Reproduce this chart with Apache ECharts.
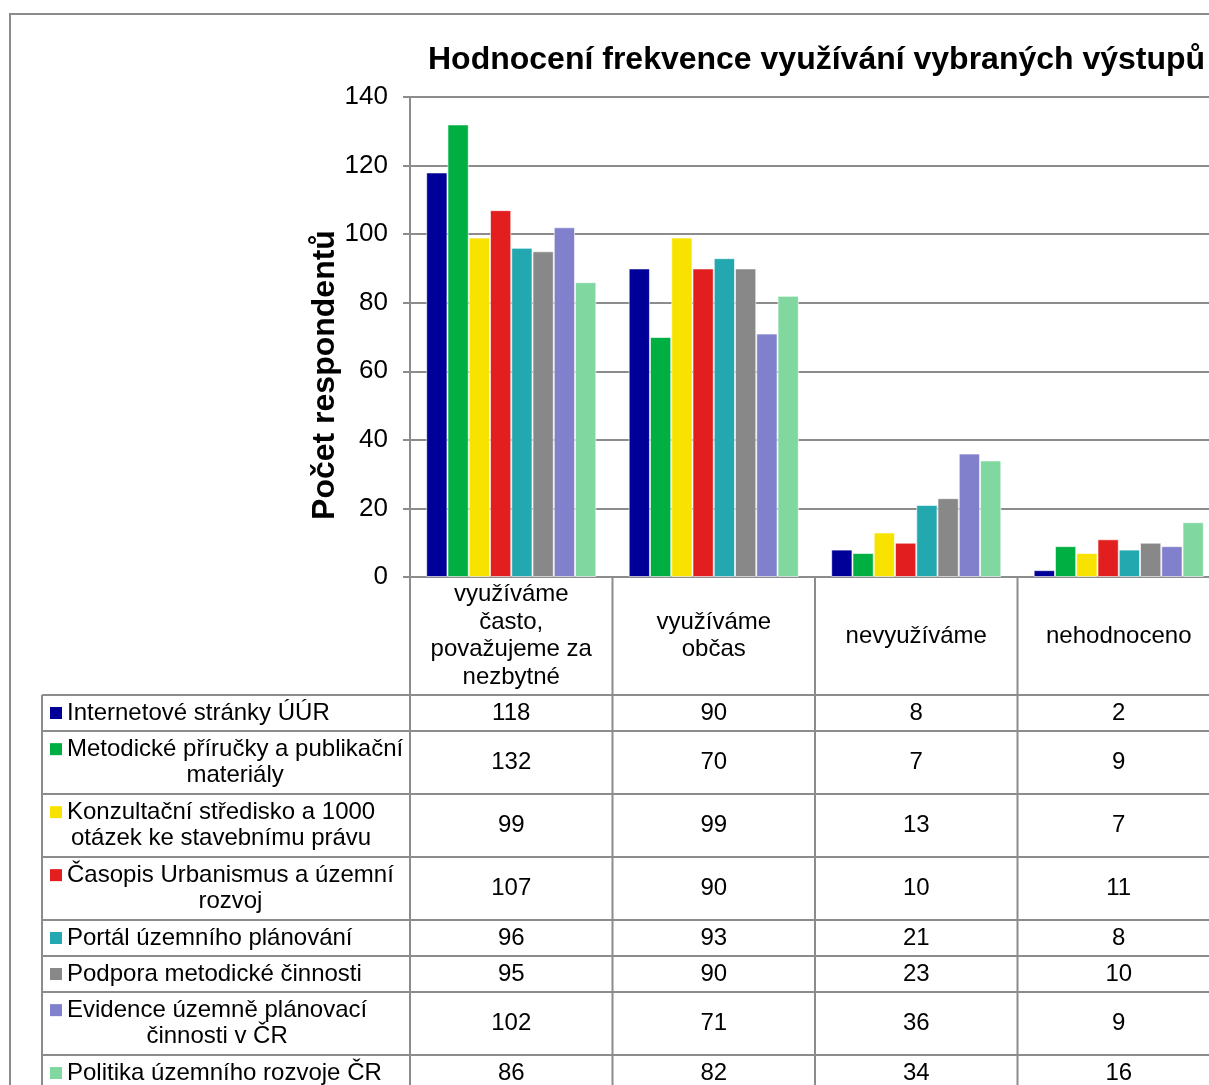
<!DOCTYPE html>
<html>
<head>
<meta charset="utf-8">
<script src="https://cdn.jsdelivr.net/npm/echarts@6/dist/echarts.min.js"></script>
<style>
  * { margin: 0; padding: 0; }
  html, body { background: #fff; overflow: hidden; }
  #chart { width: 1230px; height: 1085px; }
</style>
</head>
<body>
<div id="chart"></div>
<script>
// categories (line breaks as in the table header)
const categories = [
  "využíváme\nčasto,\npovažujeme za\nnezbytné",
  "využíváme\nobčas",
  "nevyužíváme",
  "nehodnoceno",
];

// series names (line breaks as in the table)
const seriesNames = [
  "Internetové stránky ÚÚR",
  "Metodické příručky a publikační\nmateriály",
  "Konzultační středisko a 1000\notázek ke stavebnímu právu",
  "Časopis Urbanismus a územní\nrozvoj",
  "Portál územního plánování",
  "Podpora metodické činnosti",
  "Evidence územně plánovací\nčinnosti v ČR",
  "Politika územního rozvoje ČR",
];

const internetove = [118, 90, 8, 2];
const metodicke = [132, 70, 7, 9];
const konzultacni = [99, 99, 13, 7];
const casopis = [107, 90, 10, 11];
const portal = [96, 93, 21, 8];
const podpora = [95, 90, 23, 10];
const evidence = [102, 71, 36, 9];
const politika = [86, 82, 34, 16];
const seriesValues = [internetove, metodicke, konzultacni, casopis, portal, podpora, evidence, politika];

const yTicks = [0, 20, 40, 60, 80, 100, 120, 140];

const colors = ["#000099", "#00AF41", "#F8E300", "#E31E1E", "#24A8B0", "#888888", "#8080CC", "#80D8A0"];
const FONT = '"Liberation Sans", Arial, sans-serif';
const LINE = "#8c8c8c";

const chart = echarts.init(document.getElementById("chart"), null, { renderer: "canvas" });

const option = {
  animation: false,
  backgroundColor: "#fff",
  color: colors,
  title: {
    text: "Hodnocení frekvence využívání vybraných výstupů",
    left: 423,
    top: 39,
    textStyle: { fontFamily: FONT, fontSize: 32, fontWeight: "bold", color: "#000" },
  },
  grid: { left: 410, top: 97, width: 810, height: 480 },
  xAxis: {
    type: "category",
    data: categories,
    axisLine: { lineStyle: { color: LINE, width: 2 } },
    axisTick: { show: false },
    axisLabel: { show: false },
  },
  yAxis: {
    type: "value",
    min: yTicks[0],
    max: yTicks[yTicks.length - 1],
    interval: 20,
    axisLine: { show: true, lineStyle: { color: LINE, width: 2 } },
    axisTick: { show: true, length: 7, lineStyle: { color: LINE, width: 2 } },
    axisLabel: { fontFamily: FONT, fontSize: 26, color: "#000", margin: 22 },
    splitLine: { lineStyle: { color: LINE, width: 2 } },
  },
  series: seriesNames.map((name, i) => ({
    name: name,
    type: "bar",
    data: seriesValues[i],
    barGap: "0%",
    barCategoryGap: "16%",
    itemStyle: { borderColor: "rgba(255,255,255,0.6)", borderWidth: 1 },
  })),
};
chart.setOption(option);

// data table below the plot, positioned from the category axis
const measure = document.createElement("canvas").getContext("2d");
measure.font = "24px " + FONT;

const centers = categories.map((c, i) => chart.convertToPixel({ xAxisIndex: 0 }, i));
const band = centers[1] - centers[0];
const axisY = chart.convertToPixel({ yAxisIndex: 0 }, 0);
const headerBottom = axisY + 118;
const tableLeft = 42;
const lineH = 26.7;
const headLineH = 27.6;

const els = [];
const txt = (text, x, y, align) => ({
  type: "text",
  x: x,
  y: y,
  style: { text: text, font: "24px " + FONT, fill: "#000", align: align || "center", verticalAlign: "middle" },
});

// outer frame
els.push({ type: "rect", shape: { x: 10, y: 14, width: 1400, height: 1200 }, style: { fill: "none", stroke: LINE, lineWidth: 2 }, z: 0 });

// y axis name
els.push({
  type: "text",
  x: 325,
  y: 375,
  rotation: Math.PI / 2,
  style: { text: "Počet respondentů", font: "bold 32px " + FONT, fill: "#000", align: "center", verticalAlign: "middle" },
});

// header labels
categories.forEach((c, i) => {
  const lines = c.split("\n");
  const mid = (axisY + headerBottom) / 2;
  lines.forEach((l, k) => {
    els.push(txt(l, centers[i], mid + (k - (lines.length - 1) / 2) * headLineH));
  });
});

// rows
let rowTop = headerBottom;
els.push({ type: "line", shape: { x1: tableLeft, y1: rowTop, x2: 1400, y2: rowTop }, style: { stroke: LINE, lineWidth: 2 } });
seriesNames.forEach((name, r) => {
  const lines = name.split("\n");
  const h = 9 + 27 * lines.length;
  const mid = rowTop + h / 2;
  const firstY = mid - (lines.length - 1) / 2 * lineH;
  // legend key
  els.push({ type: "rect", shape: { x: 50, y: firstY - 6, width: 12, height: 12 }, style: { fill: colors[r] } });
  if (lines.length === 1) {
    els.push(txt(lines[0], 67, firstY, "left"));
  } else {
    const w = measure.measureText(lines[0]).width;
    lines.forEach((l, k) => els.push(txt(l, 67 + w / 2, firstY + k * lineH)));
  }
  seriesValues[r].forEach((v, i) => els.push(txt(String(v), centers[i], mid)));
  rowTop += h;
  els.push({ type: "line", shape: { x1: tableLeft, y1: rowTop, x2: 1400, y2: rowTop }, style: { stroke: LINE, lineWidth: 2 } });
});

// vertical lines
els.push({ type: "line", shape: { x1: tableLeft, y1: headerBottom, x2: tableLeft, y2: 1200 }, style: { stroke: LINE, lineWidth: 2 } });
centers.forEach((cx) => {
  els.push({ type: "line", shape: { x1: cx - band / 2, y1: axisY, x2: cx - band / 2, y2: 1200 }, style: { stroke: LINE, lineWidth: 2 } });
});
els.push({ type: "line", shape: { x1: centers[3] + band / 2, y1: axisY, x2: centers[3] + band / 2, y2: 1200 }, style: { stroke: LINE, lineWidth: 2 } });

chart.setOption({ graphic: { elements: els } });
</script>
</body>
</html>
